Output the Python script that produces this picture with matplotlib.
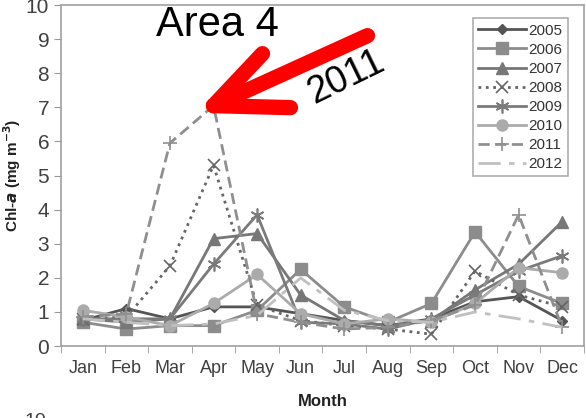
import matplotlib
matplotlib.use("Agg")
import matplotlib.pyplot as plt
import numpy as np

plt.rcParams['font.family'] = ['Liberation Sans', 'DejaVu Sans']

months = ['Jan', 'Feb', 'Mar', 'Apr', 'May', 'Jun', 'Jul', 'Aug', 'Sep', 'Oct', 'Nov', 'Dec']
y2005 = [0.75, 1.1, 0.8, 1.15, 1.15, 0.95, 0.75, 0.6, 0.8, 1.3, 1.45, 0.75]
y2006 = [0.7, 0.5, 0.6, 0.6, 1.05, 2.25, 1.15, 0.7, 1.25, 3.35, 1.75, 1.25]
y2007 = [0.8, 0.7, 0.8, 3.15, 3.3, 1.5, 0.75, 0.6, 0.75, 1.65, 2.4, 3.65]
y2008 = [0.8, 0.85, 2.35, 5.3, 1.2, 0.75, 0.6, 0.5, 0.35, 2.2, 1.5, 1.15]
y2009 = [0.8, 0.8, 0.8, 2.4, 3.85, 0.7, 0.65, 0.5, 0.8, 1.5, 2.2, 2.65]
y2010 = [1.05, 0.85, 0.6, 1.25, 2.1, 0.95, 0.65, 0.8, 0.7, 1.25, 2.3, 2.15]
y2011 = [0.85, 0.95, 5.95, 7.05, 0.95, 0.7, 0.5, 0.55, 0.75, 1.2, 3.85, 0.55]
y2012 = [0.8, 0.7, 0.6, 0.65, 0.9, 2.0, 1.05, 0.75, 0.7, 1.0, 0.8, 0.55]

x = np.arange(len(months))

fig = plt.figure(figsize=(5.86, 4.18), dpi=100)
ax = fig.add_axes([0.104, 0.172, 0.8926, 0.816])

ax.plot(x, y2005, color='#555555', lw=2, marker='D', ms=5, label='2005')
ax.plot(x, y2006, color='#8c8c8c', lw=2, marker='s', ms=8, label='2006')
ax.plot(x, y2007, color='#777777', lw=2, marker='^', ms=8, label='2007')
ax.plot(x, y2008, color='#666666', lw=2, ls=':', marker='x', ms=9, mew=1.2, label='2008')
ax.plot(x, y2009, color='#7a7a7a', lw=2, marker=(6, 2, 0), ms=10, mew=1.2, label='2009')
ax.plot(x, y2010, color='#ababab', lw=2, marker='o', ms=8, label='2010')
ax.plot(x, y2011, color='#8f8f8f', lw=2, ls=(0, (4, 2)), marker='+', ms=10, mew=1.2, label='2011')
ax.plot(x, y2012, color='#c0c0c0', lw=2, ls=(0, (8, 3, 2, 3)), label='2012')

ax.set_xlim(-0.5, 11.5)
ax.set_ylim(0, 10)
ax.set_yticks(range(0, 11))
ax.set_xticks(x)
ax.set_xticklabels(months)
ax.set_xticks(np.arange(-0.5, 12, 1), minor=True)
ax.tick_params(axis='x', which='major', length=0, pad=10, labelsize=13, labelcolor='#404040')
ax.tick_params(axis='x', which='minor', length=5, color='#999999', direction='out')
ax.tick_params(axis='y', length=5, color='#999999', labelsize=15, labelcolor='#404040')
for s in ax.spines.values():
    s.set_color('#a0a0a0')
    s.set_linewidth(1.2)

ax.set_xlabel('Month', fontsize=12, fontweight='bold', color='#222222', labelpad=12)
ax.set_ylabel(r'Chl-$\mathbfit{a}$ (mg m$^{\mathbf{-3}}$)', fontsize=11, fontweight='bold',
              color='#222222', va='center')
ax.yaxis.set_label_coords(-0.094, 0.5)

leg = ax.legend(loc='upper right', bbox_to_anchor=(0.984, 0.983), fontsize=11,
                handlelength=3.1, handletextpad=0.2, labelspacing=0.33,
                borderpad=0.35, frameon=True, fancybox=False, labelcolor='#333333')
leg.get_frame().set_edgecolor('#999999')
leg.get_frame().set_linewidth(1.2)

# annotation
fig.text(217 / 586, 1 - 25 / 418, 'Area 4', fontsize=30, ha='center', va='center', color='black')
fig.text(346 / 586, 1 - 77 / 418, '2011', fontsize=27, ha='center', va='center',
         rotation=26, color='black')
tip = (3, 7.05)
for off in [(154, 70), (49, 52), (77, -2)]:
    ax.annotate('', xy=tip, xycoords='data', xytext=off, textcoords='offset pixels',
                arrowprops=dict(arrowstyle='-', lw=11, color='#ff0000', capstyle='round',
                                shrinkA=0, shrinkB=0))

# cut-off label of the panel below
fig.text(35 / 586, 1 - 413 / 418, '10', fontsize=14, ha='center', va='top', color='#404040')

fig.savefig('out.png', dpi=100)
